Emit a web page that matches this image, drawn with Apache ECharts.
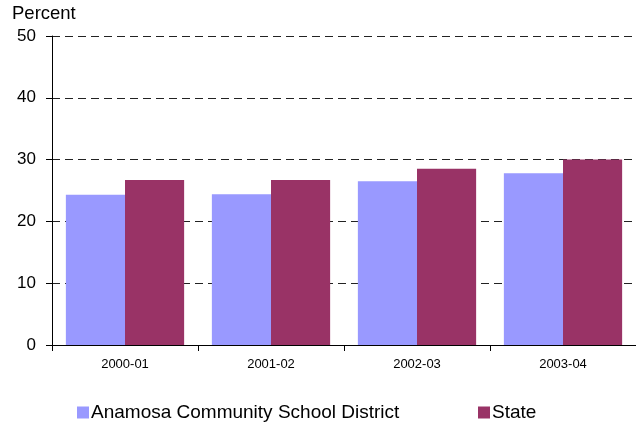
<!DOCTYPE html>
<html><head><meta charset="utf-8">
<script src="https://cdn.jsdelivr.net/npm/echarts@6/dist/echarts.min.js"></script>
<style>html,body{margin:0;padding:0;background:#fff}#c{width:636px;height:423px}</style>
</head><body><div id="c"></div>
<script>
var categories = ["2000-01", "2001-02", "2002-03", "2003-04"];
var districtValues = [24.3, 24.4, 26.5, 27.8];
var stateValues = [26.7, 26.7, 28.5, 30.0];
var seriesNames = ["Anamosa Community School District", "State"];
var yTicks = [0, 10, 20, 30, 40, 50];

var font = 'Liberation Sans, Arial, sans-serif';
var legendText = { fontSize: 19, color: '#000', fontFamily: font, padding: [0, 0, 0, -3] };
var chart = echarts.init(document.getElementById('c'));
chart.setOption({
  animation: false,
  backgroundColor: '#fff',
  textStyle: { fontFamily: font },
  grid: { left: 52, right: 0, top: 36, bottom: 78, containLabel: false },
  legend: [
    { data: [seriesNames[0]], top: 398, left: 72, itemWidth: 12, itemHeight: 12,
      icon: 'rect', textStyle: legendText },
    { data: [seriesNames[1]], top: 398, left: 473, itemWidth: 12, itemHeight: 12,
      icon: 'rect', textStyle: legendText }
  ],
  xAxis: {
    type: 'category',
    data: categories,
    axisLine: { lineStyle: { color: '#000', width: 1 } },
    axisTick: { show: true, length: 6, lineStyle: { color: '#000' } },
    axisLabel: { fontSize: 13, color: '#000', margin: 13 },
    splitLine: { show: false }
  },
  yAxis: {
    type: 'value',
    min: 0, max: 50, interval: 10,
    name: 'Percent',
    nameLocation: 'end',
    nameGap: 13,
    nameTextStyle: { fontSize: 18.5, color: '#000', align: 'left', padding: [0, 0, 0, -40] },
    axisLine: { show: true, lineStyle: { color: '#000', width: 1 } },
    axisTick: { show: true, inside: false, length: 6, lineStyle: { color: '#000' } },
    axisLabel: { fontSize: 17, color: '#000', margin: 16,
      formatter: function (v) { return yTicks.indexOf(v) >= 0 ? String(v) : ''; } },
    splitLine: { show: true, lineStyle: { color: '#222', type: [8, 5], width: 1 } }
  },
  series: [
    { name: seriesNames[0], type: 'bar', data: districtValues, barGap: '0%', barCategoryGap: '19%',
      itemStyle: { color: '#9999ff' } },
    { name: seriesNames[1], type: 'bar', data: stateValues,
      itemStyle: { color: '#993366' } }
  ]
});
</script></body></html>
